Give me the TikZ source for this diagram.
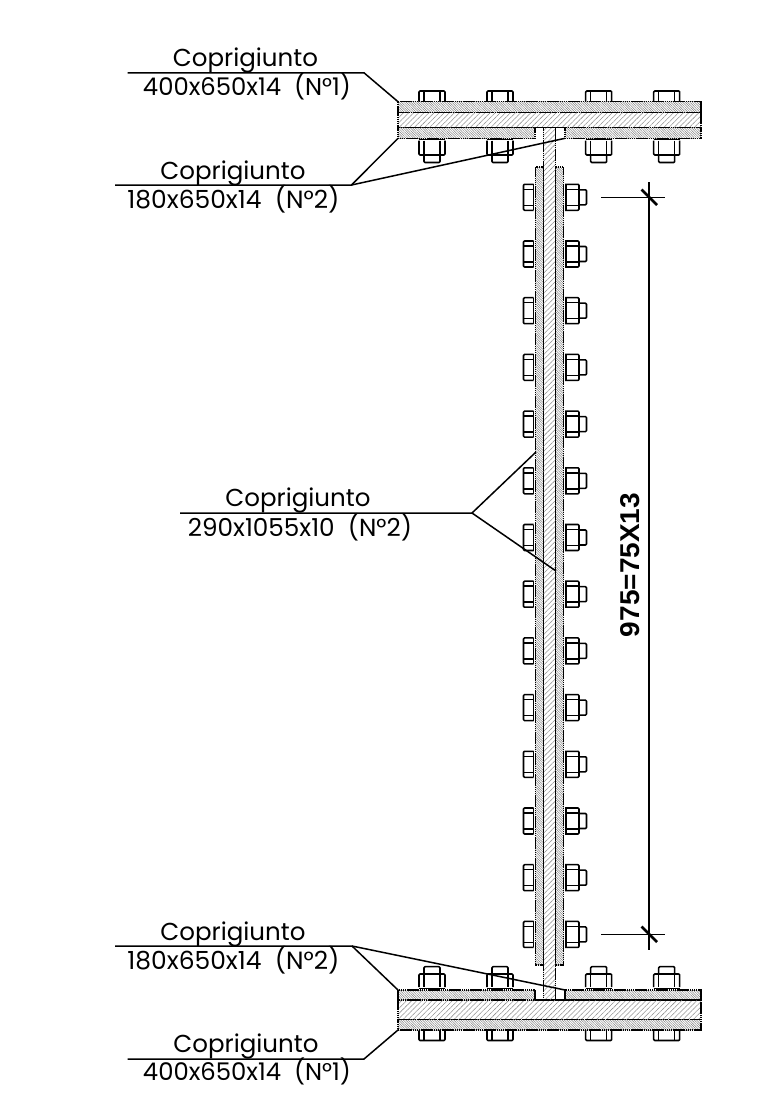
\documentclass[tikz,border=0pt]{standalone}
\usepackage{fontspec}
\setmainfont{Poppins}
\newfontfamily\dimfont{Liberation Sans}
\usetikzlibrary{patterns.meta}
\tikzset{
  x=1pt,y=-1pt,
  obj/.style={line width=1.55pt,line join=round,black},
  lead/.style={line width=1.5pt,black},
  thin line/.style={line width=1.1pt,black},
  tick/.style={line width=2.8pt,black},
  wideplate/.style={line width=1.3pt,dash pattern=on 1.6pt off 0.5pt,draw=black,
    pattern={Lines[angle=45,distance=3.6pt,line width=0.55pt]},pattern color=black!45},
  denseplate/.style={line width=1.3pt,dash pattern=on 1.6pt off 0.5pt,draw=black,
    pattern={Lines[angle=-45,distance=1.7pt,line width=0.5pt]},pattern color=black!50},
  lbl/.style={inner sep=0pt,anchor=center,text=black},
  dimlbl/.style={inner sep=0pt,rotate=90,font=\dimfont\bfseries}
}
\newcommand{\lw}[2]{\resizebox{#1pt}{!}{\strut #2}}
\begin{document}
\begin{tikzpicture}
\useasboundingbox (0,0) rectangle (762,1112);
% flange bolts
\foreach \cx in {432,500,598.7,666.7}{
  % top flange
  \draw[obj,rounded corners=1pt] (\cx-13,101.7)--(\cx-13,91)--(\cx+13,91)--(\cx+13,101.7);
  \draw[obj] (\cx-8,91)--(\cx-8,101.7) (\cx+8,91)--(\cx+8,101.7);
  \draw[obj] (\cx-13,139.5)--(\cx+13,139.5);
  \draw[obj,rounded corners=1pt] (\cx-13,140.5)--(\cx-13,155)--(\cx+13,155)--(\cx+13,140.5);
  \draw[obj] (\cx-8,140.5)--(\cx-8,155) (\cx+8,140.5)--(\cx+8,155);
  \draw[obj,rounded corners=1pt] (\cx-8,155)--(\cx-8,162.5)--(\cx+8,162.5)--(\cx+8,155);
  % bottom flange
  \draw[obj,rounded corners=1pt] (\cx-13,1030)--(\cx-13,1040.5)--(\cx+13,1040.5)--(\cx+13,1030);
  \draw[obj] (\cx-8,1030)--(\cx-8,1040.5) (\cx+8,1030)--(\cx+8,1040.5);
  \draw[obj] (\cx-13,988.5)--(\cx+13,988.5);
  \draw[obj,rounded corners=1pt] (\cx-13,987)--(\cx-13,974)--(\cx+13,974)--(\cx+13,987);
  \draw[obj] (\cx-8,974)--(\cx-8,987) (\cx+8,974)--(\cx+8,987);
  \draw[obj,rounded corners=1pt] (\cx-8,974)--(\cx-8,966.7)--(\cx+8,966.7)--(\cx+8,974);
}
% web bolts
\foreach \cy in {197.3,254,310.7,367.4,424.1,480.8,537.5,594.2,650.9,707.6,764.3,821,877.7,934.4}{
  \draw[obj,rounded corners=1pt] (533.5,\cy-13)--(523.5,\cy-13)--(523.5,\cy+13)--(533.5,\cy+13);
  \draw[obj] (523.5,\cy-8)--(533.5,\cy-8) (523.5,\cy+8)--(533.5,\cy+8);
  \draw[obj] (533.5,\cy-13)--(533.5,\cy+13);
  \draw[obj,rounded corners=1pt] (565,\cy-13)--(579,\cy-13)--(579,\cy+13)--(565,\cy+13);
  \draw[obj] (566,\cy-13)--(566,\cy+13);
  \draw[obj] (566,\cy-8)--(579,\cy-8) (566,\cy+8)--(579,\cy+8);
  \draw[obj,rounded corners=1pt] (579,\cy-7.5)--(586.5,\cy-7.5)--(586.5,\cy+7.5)--(579,\cy+7.5);
}
% plates
\draw[denseplate] (398,101.7) rectangle (701,112.3);
\draw[wideplate] (398,112.3) rectangle (701,127.3);
\draw[denseplate] (398,127.3) rectangle (535,138.3);
\draw[denseplate] (565,127.3) rectangle (701,138.3);
\draw[denseplate] (398,990) rectangle (535,1000);
\draw[denseplate] (565,990) rectangle (701,1000);
\draw[wideplate] (398,1000) rectangle (701,1019.3);
\draw[denseplate] (398,1019.3) rectangle (701,1030);
\draw[obj] (535,127.3)--(565,127.3) (535,1000)--(565,1000);
\draw[denseplate] (535.7,167) rectangle (543.3,965);
\draw[denseplate] (555.7,167) rectangle (563.7,965);
\draw[wideplate] (543.3,127.3) rectangle (555.7,1000);
% dimension
\coordinate (dimtop) at (649,182);
\coordinate (dimbot) at (649,950);
\coordinate (ext1a) at (601,197.3);
\coordinate (ext1b) at (665,197.3);
\coordinate (ext2a) at (601,934.4);
\coordinate (ext2b) at (665,934.4);
\draw[thin line] (dimtop)--(dimbot);
\draw[thin line] (ext1a)--(ext1b);
\draw[thin line] (ext2a)--(ext2b);
\coordinate (t1a) at (641.5,189.5);
\coordinate (t1b) at (657,205);
\coordinate (t2a) at (641.5,926.5);
\coordinate (t2b) at (657,942);
\draw[tick] (t1a)--(t1b);
\draw[tick] (t2a)--(t2b);
\node[dimlbl] (dimtext) at (630,565) {\resizebox{144pt}{19pt}{975=75X13}};
% leaders
\coordinate (a0) at (127.5,72.8);
\coordinate (a1) at (364,72.8);
\coordinate (a2) at (398,101.7);
\draw[lead] (a0)--(a1)--(a2);
\coordinate (b0) at (115,185);
\coordinate (b1) at (351.5,185);
\coordinate (b2) at (398,138.3);
\coordinate (b3) at (565,138.3);
\draw[lead] (b0)--(b1)--(b2);
\draw[lead] (b1)--(b3);
\coordinate (c0) at (180,513);
\coordinate (c1) at (472,513);
\coordinate (c2) at (536,452);
\coordinate (c3) at (556,571);
\draw[lead] (c0)--(c1)--(c2);
\draw[lead] (c1)--(c3);
\coordinate (d0) at (115,946);
\coordinate (d1) at (352,946);
\coordinate (d2) at (398,990);
\coordinate (d3) at (565,990);
\draw[lead] (d0)--(d1)--(d2);
\draw[lead] (d1)--(d3);
\coordinate (e0) at (127.5,1059);
\coordinate (e1) at (364,1059);
\coordinate (e2) at (398,1030);
\draw[lead] (e0)--(e1)--(e2);
% labels
\node[lbl] (a-t) at (245.5,61) {\lw{145}{Coprigiunto}};
\node[lbl] (a-b) at (247,89) {\lw{208}{400x650x14\ \ (N°1)}};
\node[lbl] (b-t) at (233,174) {\lw{145}{Coprigiunto}};
\node[lbl] (b-b) at (233.5,201) {\lw{212}{180x650x14\ \ (N°2)}};
\node[lbl] (c-t) at (298,501) {\lw{145}{Coprigiunto}};
\node[lbl] (c-b) at (300,529) {\lw{224}{290x1055x10\ \ (N°2)}};
\node[lbl] (d-t) at (233,935) {\lw{145}{Coprigiunto}};
\node[lbl] (d-b) at (233.5,962) {\lw{212}{180x650x14\ \ (N°2)}};
\node[lbl] (e-t) at (246,1047) {\lw{145}{Coprigiunto}};
\node[lbl] (e-b) at (247,1074) {\lw{208}{400x650x14\ \ (N°1)}};
\end{tikzpicture}
\end{document}
